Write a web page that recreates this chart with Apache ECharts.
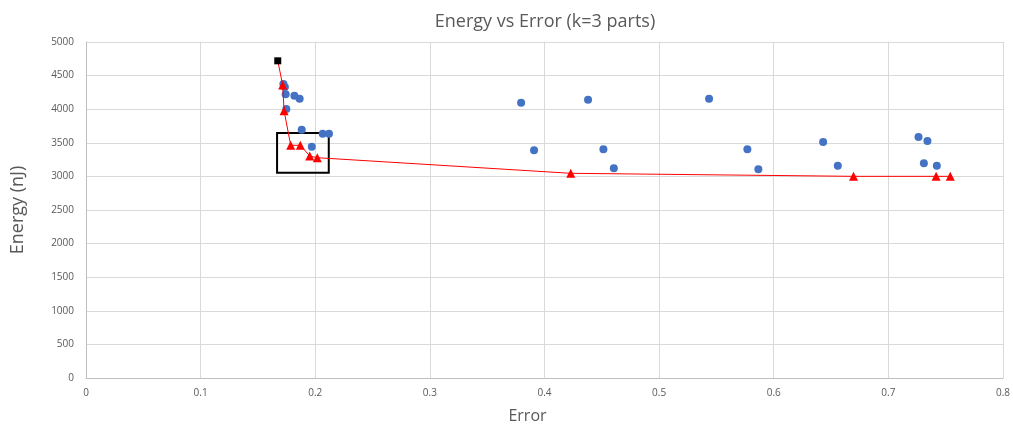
<!DOCTYPE html>
<html><head><meta charset="utf-8">
<script src="https://cdn.jsdelivr.net/npm/echarts@6/dist/echarts.min.js"></script>
<style>html,body{margin:0;padding:0;background:#fff}#c{width:1013px;height:432px}</style>
</head><body><div id="c"></div>
<script>
const blueX = [0.1722,0.1735,0.1742,0.1818,0.1864,0.1748,0.1882,0.2065,0.212,0.197,0.3796,0.3909,0.438,0.4514,0.4605,0.5436,0.577,0.5866,0.6431,0.6559,0.7263,0.7341,0.731,0.7423];
const blueY = [4375,4330,4222,4201,4157,4003,3695,3636,3636,3442,4097,3388,4141,3403,3121,4156,3403,3105,3512,3159,3586,3527,3195,3159];
const frontX = [0.1716,0.1728,0.1786,0.187,0.1952,0.2018,0.4229,0.6696,0.7417,0.754];
const frontY = [4360,3978,3463,3463,3304,3278,3046,3001,3001,3001];
const bestX = [0.1673];
const bestY = [4720];
const boxX = [0.1667,0.2118];
const boxY = [3055,3646];
const xTicks = [0,0.1,0.2,0.3,0.4,0.5,0.6,0.7,0.8];

const zip = (a,b)=>a.map((v,i)=>[v,b[i]]);
const F = '"Open Sans", "Noto Sans", sans-serif';
const chart = echarts.init(document.getElementById('c'));
chart.setOption({
  animation:false,
  title:{text:'Energy vs Error (k=3 parts)',left:540,top:8,textAlign:'center',
    textStyle:{fontFamily:F,fontSize:18,fontWeight:'normal',color:'#595959'}},
  grid:{left:86,right:10,top:42,bottom:54},
  xAxis:{type:'value',min:0,max:0.8,interval:0.1,
    name:'Error',nameLocation:'middle',nameGap:30,
    nameTextStyle:{fontFamily:F,fontSize:16,color:'#595959',padding:[0,34,0,0]},
    axisLine:{lineStyle:{color:'#bfbfbf'}},axisTick:{show:false},
    axisLabel:{fontFamily:F,fontSize:10,color:'#595959',margin:10,formatter:v=>String(+v.toFixed(1))},
    splitLine:{lineStyle:{color:'#d9d9d9'}}},
  yAxis:{type:'value',min:0,max:5000,interval:500,
    name:'Energy (nJ)',nameLocation:'middle',nameGap:59,
    nameTextStyle:{fontFamily:F,fontSize:18,color:'#595959'},
    axisLine:{show:true,lineStyle:{color:'#bfbfbf'}},axisTick:{show:false},
    axisLabel:{fontFamily:F,fontSize:10,color:'#595959',margin:12,formatter:v=>String(v)},
    splitLine:{lineStyle:{color:'#d9d9d9'}}},
  series:[
    {type:'scatter',data:zip(blueX,blueY),symbol:'circle',symbolSize:8,
      itemStyle:{color:'#4472C4',opacity:1},z:2},
    {type:'line',data:zip(bestX.concat(frontX),bestY.concat(frontY)),
      symbol:'none',lineStyle:{color:'#FF0000',width:1},z:3,
      markArea:{silent:true,itemStyle:{color:'rgba(0,0,0,0)',borderColor:'#000',borderWidth:2},
        data:[[{coord:[boxX[0],boxY[1]]},{coord:[boxX[1],boxY[0]]}]]}},
    {type:'scatter',data:zip(frontX,frontY),symbol:'triangle',symbolSize:9,
      itemStyle:{color:'#FF0000',opacity:1},z:4},
    {type:'scatter',data:zip(bestX,bestY),symbol:'rect',symbolSize:7,
      itemStyle:{color:'#000',opacity:1},z:5}
  ]
});
</script></body></html>
